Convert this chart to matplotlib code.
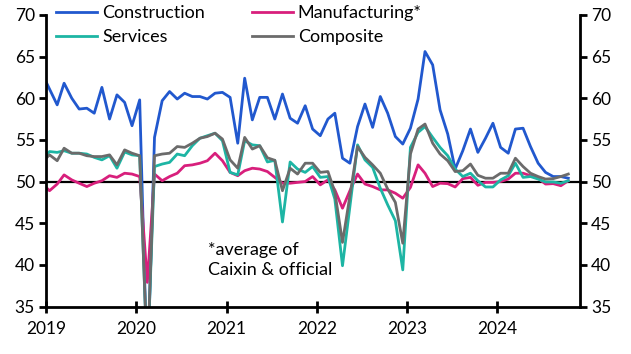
import pandas as pd
import matplotlib
matplotlib.use("Agg")
import matplotlib.pyplot as plt
import matplotlib.dates as mdates

plt.rcParams['font.family'] = ['Lato', 'DejaVu Sans']

# monthly, Dec 2018 .. Oct 2024 (plotted mid-month)
dates = pd.date_range('2018-12-01', '2024-10-01', freq='MS') + pd.Timedelta(days=14)

construction = [63.0,
    61.1, 59.2, 61.8, 60.0, 58.7, 58.8, 58.2, 61.3, 57.5, 60.4, 59.5, 56.7,
    59.8, 26.6, 55.3, 59.7, 60.8, 59.9, 60.6, 60.2, 60.2, 59.9, 60.6, 60.7,
    60.1, 54.6, 62.4, 57.4, 60.1, 60.1, 57.5, 60.5, 57.6, 57.0, 59.1, 56.3,
    55.5, 57.5, 58.2, 52.8, 52.2, 56.6, 59.3, 56.5, 60.2, 58.2, 55.4, 54.5,
    56.4, 59.9, 65.6, 64.0, 58.6, 55.7, 51.5, 53.7, 56.3, 53.5, 55.2, 57.0,
    54.1, 53.4, 56.3, 56.4, 54.2, 52.2, 51.1, 50.6, 50.6, 50.4]
manufacturing = [49.8,
    48.9, 49.7, 50.8, 50.2, 49.8, 49.4, 49.8, 50.1, 50.7, 50.5, 51.0, 50.9,
    50.6, 37.9, 50.9, 50.1, 50.6, 51.0, 51.9, 52.0, 52.2, 52.5, 53.4, 52.5,
    51.1, 50.7, 51.3, 51.6, 51.5, 51.2, 50.5, 49.8, 49.8, 49.9, 50.0, 50.6,
    49.6, 50.2, 49.0, 46.8, 48.9, 50.9, 49.7, 49.4, 49.0, 49.0, 48.6, 48.0,
    49.3, 52.0, 51.0, 49.4, 49.8, 49.75, 49.35, 50.35, 50.5, 49.55, 49.9, 49.9,
    50.0, 50.3, 51.0, 51.0, 50.7, 50.4, 49.7, 49.75, 49.5, 50.1]
services = [52.6,
    53.6, 53.5, 53.7, 53.4, 53.4, 53.3, 52.9, 52.6, 53.1, 51.6, 53.55, 53.2,
    53.1, 28.3, 51.8, 52.1, 52.3, 53.3, 53.1, 54.3, 55.2, 55.5, 55.8, 54.9,
    51.1, 50.8, 54.9, 54.4, 54.3, 52.35, 52.55, 45.15, 52.35, 51.5, 51.1, 51.8,
    50.5, 50.6, 47.9, 39.9, 47.0, 54.4, 52.6, 51.7, 49.2, 47.2, 45.3, 39.4,
    54.1, 55.9, 56.6, 55.3, 54.1, 53.1, 51.5, 50.6, 51.0, 50.1, 49.35, 49.35,
    50.2, 50.7, 52.2, 50.5, 50.6, 50.3, 49.95, 49.95, 49.8, 50.1]
composite = [52.3,
    53.2, 52.5, 54.0, 53.4, 53.4, 53.1, 53.0, 53.0, 53.2, 52.0, 53.8, 53.4,
    53.1, 28.5, 53.1, 53.3, 53.4, 54.2, 54.1, 54.6, 55.2, 55.4, 55.8, 55.1,
    52.6, 51.6, 55.3, 53.9, 54.3, 52.85, 52.55, 48.9, 51.6, 50.9, 52.2, 52.2,
    51.1, 51.2, 48.75, 42.7, 48.3, 54.2, 52.9, 52.0, 51.0, 49.1, 47.5, 42.6,
    53.3, 56.3, 56.9, 54.6, 53.3, 52.5, 51.2, 51.3, 52.1, 50.75, 50.4, 50.4,
    51.0, 51.0, 52.8, 51.8, 51.0, 50.6, 50.3, 50.35, 50.6, 50.9]

years = [2019, 2020, 2021, 2022, 2023, 2024]
yticks = [35, 40, 45, 50, 55, 60, 65, 70]

fig = plt.figure(figsize=(6.31, 3.54), dpi=100)
ax = fig.add_axes([0.073, 0.134, 0.846, 0.824])

ax.axhline(50, color='black', lw=1.6, zorder=1.5)
l1, = ax.plot(dates, construction, color='#2158CE', lw=2, label='Construction')
l2, = ax.plot(dates, manufacturing, color='#D81F7C', lw=2, label='Manufacturing*')
l3, = ax.plot(dates, services, color='#1DB5A4', lw=2, label='Services')
l4, = ax.plot(dates, composite, color='#6B6B6B', lw=2, label='Composite')

ax.set_xlim(pd.Timestamp('2019-01-01'), pd.Timestamp('2024-12-01'))
ax.set_ylim(35, 70)
ax.set_yticks(yticks)
ax.xaxis.set_major_locator(mdates.YearLocator())
ax.xaxis.set_major_formatter(mdates.DateFormatter('%Y'))

for s in ['left', 'right', 'bottom']:
    ax.spines[s].set_linewidth(2)
ax.spines['top'].set_visible(False)
ax.tick_params(axis='y', direction='out', length=5, width=2, labelsize=12.5,
               right=True, labelright=True, pad=3)
ax.tick_params(axis='x', direction='inout', length=9, width=2, labelsize=12.5, pad=6)

ax.legend(handles=[l1, l3, l2, l4], ncol=2, loc='upper left', frameon=False,
          fontsize=13, handlelength=2.3, handletextpad=0.25, columnspacing=2.6,
          labelspacing=0.45, borderaxespad=0, bbox_to_anchor=(0.005, 1.058))

ax.text(0.303, 0.22, '*average of\nCaixin & official', transform=ax.transAxes,
        fontsize=13, va='top', ha='left', linespacing=1.3)

fig.savefig('out.png', dpi=100)
